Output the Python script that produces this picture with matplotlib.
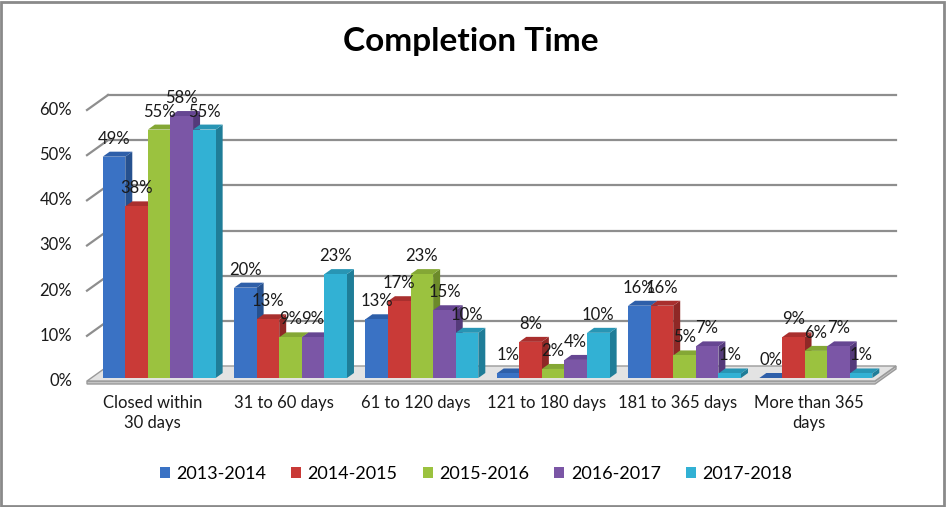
import matplotlib
matplotlib.use("Agg")
import matplotlib.pyplot as plt
import matplotlib.transforms as mtransforms
from matplotlib.patches import Polygon, Rectangle

# ---------------------------------------------------------------- data
categories = ["Closed within\n30 days", "31 to 60 days", "61 to 120 days",
              "121 to 180 days", "181 to 365 days", "More than 365\ndays"]
years = ["2013-2014", "2014-2015", "2015-2016", "2016-2017", "2017-2018"]
v_2013 = [49, 20, 13, 1, 16, 0]
v_2014 = [38, 13, 17, 8, 16, 9]
v_2015 = [55, 9, 23, 2, 5, 6]
v_2016 = [58, 9, 15, 4, 7, 7]
v_2017 = [55, 23, 10, 10, 1, 1]
series = [v_2013, v_2014, v_2015, v_2016, v_2017]
yticks = [0, 10, 20, 30, 40, 50, 60]

# face colours: front, side, top
c_front = ["#3a72c4", "#c93a37", "#9bc23f", "#7b56a6", "#32b1d4"]
c_side = ["#26518f", "#8f2826", "#6c8a2a", "#543a7a", "#1f7d98"]
c_top = ["#2e5fa9", "#a92f2e", "#84a735", "#664692", "#2895b4"]

plt.rc('font', family=['Lato', 'DejaVu Sans'])

W, H = 946, 507
fig = plt.figure(figsize=(W / 100, H / 100), dpi=100)
ax = fig.add_axes([87 / W, (H - 381) / H, 788 / W, 271 / H])
ax.set_xlim(-0.5, 5.5)
ax.set_ylim(0, 60)
ax.axis('off')

wall = (21, 15)      # depth of the back wall, pixels
boff = (6.5, 3)      # bar front plane offset
bdep = (7, 5)        # bar depth
bw = 0.172           # bar width in category units


def shifted(dx, dy):
    return ax.transData + mtransforms.ScaledTranslation(dx / 100, dy / 100, fig.dpi_scale_trans)


def px(x, y):
    return ax.transData.transform((x, y))


ident = mtransforms.IdentityTransform()
grid_c = "#8e8e8e"


def poly(pts, **kw):
    ax.add_patch(Polygon(pts, closed=True, transform=ident, clip_on=False, **kw))


# floor slab
fl, fr = px(-0.5, 0), px(5.5, 0)
floor = [fl, fr, (fr[0] + wall[0], fr[1] + wall[1]), (fl[0] + wall[0], fl[1] + wall[1])]
slab = [(fl[0], fl[1] - 3), (fr[0], fr[1] - 3), (fr[0] + wall[0], fr[1] + wall[1] - 3),
        (fr[0] + wall[0], fr[1] + wall[1]), fr, fl]
poly(slab, facecolor="#c4c4c4", edgecolor="#9a9a9a", lw=1, zorder=1)
poly(floor, facecolor="#e3e3e3", edgecolor="#9a9a9a", lw=1, zorder=1.1)

# back wall gridlines + left wall diagonals
for t in yticks[1:]:
    ax.plot([-0.5, 5.5], [t, t], transform=shifted(*wall), color=grid_c, lw=1.6,
            clip_on=False, zorder=1)
    p = px(-0.5, t)
    ax.plot([p[0], p[0] + wall[0]], [p[1], p[1] + wall[1]], transform=ident,
            color=grid_c, lw=1.6, clip_on=False, zorder=1)

# bars, drawn left to right so later fronts hide earlier sides
for i in range(len(categories)):
    for k, vals in enumerate(series):
        v = vals[i]
        x0 = i + (k - 2.5) * bw
        x1 = x0 + bw
        a, b = px(x0, 0), px(x1, v)
        a = (a[0] + boff[0], a[1] + boff[1])
        b = (b[0] + boff[0], b[1] + boff[1])
        z = 3 + i * 10 + k
        side = [(b[0], a[1]), (b[0], b[1]), (b[0] + bdep[0], b[1] + bdep[1]),
                (b[0] + bdep[0], a[1] + bdep[1])]
        top = [(a[0], b[1]), (b[0], b[1]), (b[0] + bdep[0], b[1] + bdep[1]),
               (a[0] + bdep[0], b[1] + bdep[1])]
        poly(side, facecolor=c_side[k], lw=0, zorder=z)
        poly(top, facecolor=c_top[k], lw=0, zorder=z)
        ax.bar(x0, v, width=bw, align='edge', color=c_front[k], lw=0,
               transform=shifted(*boff), zorder=z + 0.5, clip_on=False)

# data labels
for i in range(len(categories)):
    for k, vals in enumerate(series):
        cx = i + (k - 2.0) * bw
        ax.text(cx, vals[i], "%d%%" % vals[i], transform=shifted(boff[0], 21),
                ha='center', va='center', fontsize=12, color="#1a1a1a", zorder=200)

# y tick labels (front plane)
for t in yticks:
    ax.text(-0.5, t, "%d%%" % t, transform=shifted(-15, 0), ha='right', va='center',
            fontsize=12, color="#1a1a1a")

# category labels
for i, c in enumerate(categories):
    ax.text(i, 0, c, transform=shifted(0, -14), ha='center', va='top',
            fontsize=12, color="#1a1a1a", linespacing=1.3)

fig.text(471 / W, 1 - 41 / H, "Completion Time", ha='center', va='center',
         fontsize=24, fontweight='bold', color="black")

handles = [Rectangle((0, 0), 1, 1, facecolor=c) for c in c_front]
fig.legend(handles, years, loc='center', bbox_to_anchor=(476 / W, 1 - 474 / H),
           ncol=5, frameon=False, fontsize=13, handlelength=0.55, handleheight=0.55,
           handletextpad=0.35, columnspacing=1.4)

fig.patches.append(Rectangle((0.001, 0.002), 0.997, 0.995, transform=fig.transFigure,
                             fill=False, edgecolor="#8a8a8a", lw=2))

fig.savefig("out.png", dpi=100)
